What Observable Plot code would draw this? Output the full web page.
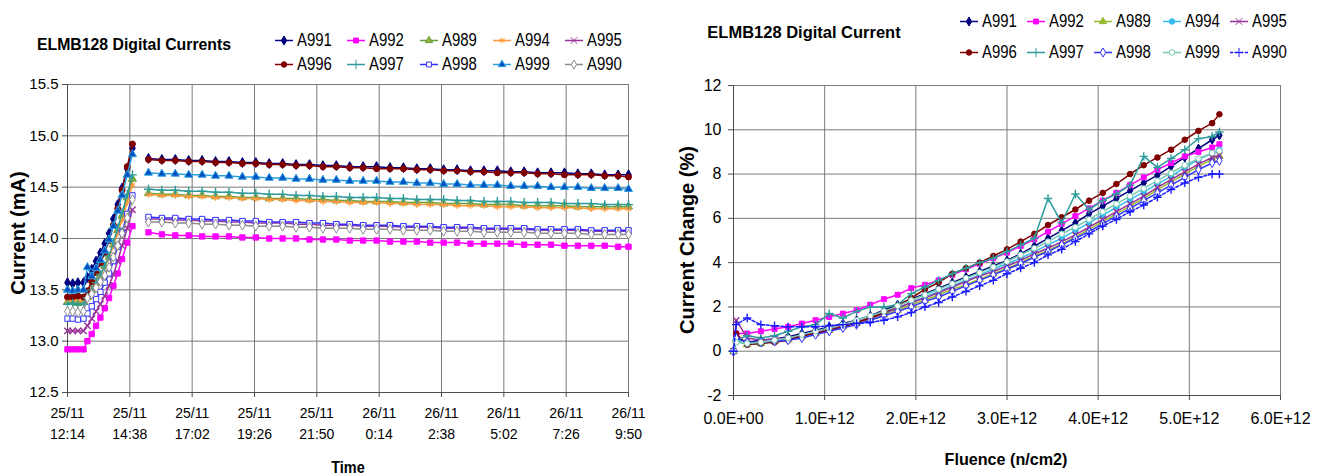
<!DOCTYPE html>
<html><head><meta charset="utf-8">
<script src="https://cdn.jsdelivr.net/npm/d3@7"></script>
<script src="https://cdn.jsdelivr.net/npm/@observablehq/plot@0.6"></script>
<style>
body{margin:0;background:#fff;width:1328px;height:476px;overflow:hidden;position:relative;font-family:"Liberation Sans",Arial,sans-serif;color:#000;}
.abs{position:absolute;white-space:nowrap;}
.ttl{font-weight:bold;font-size:17px;}
.axt{font-weight:bold;font-size:17px;}
.axv{font-weight:bold;font-size:20px;}
.leg{font-size:18px;display:flex;align-items:center;}
.leg svg{margin-right:4px;flex:none;}
.leg span{display:inline-block;transform:scaleX(0.83);transform-origin:left center;}
</style></head><body>
<div id="left" class="abs" style="left:0;top:0"></div>
<div id="right" class="abs" style="left:660px;top:0"></div>
<script>
// ---------- shared ----------
const seriesNames = ["A991","A992","A989","A994","A995","A996","A997","A998","A999","A990"];

// ---------- left chart data: current (mA) vs time (minutes after 25/11 12:14) ----------
const timeMin = [0,12,24,37, 46,56,66,76,86,96,106,116,126,138,150, 168,
  187,218,249,280,311,342,373,404,435,466,497,528,559,590,621,652,683,714,745,776,807,838,869,900,931,962,993,1024,1055,1086,1117,1148,1179,1210,1241,1272,1296];
const timeTicks = [0,144,288,432,576,720,864,1008,1152,1296];
const timeTickLabels = ["25/11\n12:14","25/11\n14:38","25/11\n17:02","25/11\n19:26","25/11\n21:50","26/11\n0:14","26/11\n2:38","26/11\n5:02","26/11\n7:26","26/11\n9:50"];
const currentTicks = [12.5,13.0,13.5,14.0,14.5,15.0,15.5];

const cur_A991 = [13.57,13.56,13.57,13.57, 13.62,13.70,13.78,13.86,13.95,14.05,14.19,14.33,14.49,14.68,14.88, null,
  14.78,14.77,14.77,14.76,14.76,14.75,14.75,14.74,14.74,14.73,
  14.73,14.72,14.72,14.71,14.71,14.70,14.70,14.70,14.69,14.69,
  14.68,14.68,14.67,14.67,14.66,14.66,14.66,14.65,14.65,14.64,
  14.64,14.64,14.63,14.63,14.62,14.62,14.62];
const cur_A992 = [12.92,12.92,12.92,12.92, 13.00,13.07,13.15,13.23,13.32,13.42,13.54,13.66,13.80,13.96,14.12, null,
  14.06,14.04,14.03,14.03,14.02,14.02,14.02,14.01,14.01,14.00,
  14.00,14.00,13.99,13.99,13.99,13.98,13.98,13.98,13.97,13.97,
  13.97,13.96,13.96,13.96,13.95,13.95,13.95,13.95,13.94,13.94,
  13.94,13.93,13.93,13.93,13.93,13.92,13.92];
const cur_A989 = [13.38,13.38,13.37,13.38, 13.43,13.50,13.57,13.64,13.73,13.82,13.94,14.08,14.22,14.40,14.58, null,
  14.44,14.43,14.43,14.42,14.42,14.41,14.41,14.40,14.40,14.39,
  14.39,14.39,14.38,14.38,14.37,14.37,14.36,14.36,14.36,14.35,
  14.35,14.35,14.34,14.34,14.34,14.33,14.33,14.33,14.32,14.32,
  14.32,14.32,14.31,14.31,14.31,14.31,14.31];
const cur_A994 = [13.40,13.41,13.40,13.40, 13.44,13.51,13.58,13.65,13.72,13.81,13.93,14.05,14.18,14.35,14.52, null,
  14.43,14.42,14.42,14.41,14.41,14.40,14.40,14.39,14.39,14.38,
  14.38,14.37,14.37,14.36,14.36,14.35,14.35,14.35,14.34,14.34,
  14.33,14.33,14.33,14.32,14.32,14.32,14.31,14.31,14.31,14.30,
  14.30,14.30,14.30,14.29,14.29,14.29,14.29];
const cur_A995 = [13.10,13.10,13.10,13.10, 13.15,13.22,13.29,13.36,13.44,13.54,13.65,13.78,13.93,14.10,14.28, null,
  14.19,14.19,14.18,14.18,14.17,14.17,14.16,14.16,14.15,14.15,
  14.15,14.14,14.14,14.13,14.13,14.13,14.12,14.12,14.12,14.11,
  14.11,14.11,14.10,14.10,14.10,14.09,14.09,14.09,14.09,14.08,
  14.08,14.08,14.08,14.07,14.07,14.07,14.07];
const cur_A996 = [13.43,13.43,13.44,13.43, 13.49,13.58,13.67,13.76,13.86,13.98,14.13,14.29,14.47,14.70,14.92, null,
  14.77,14.76,14.76,14.75,14.75,14.74,14.74,14.73,14.73,14.72,
  14.72,14.71,14.71,14.70,14.70,14.69,14.69,14.68,14.68,14.68,
  14.67,14.67,14.66,14.66,14.65,14.65,14.64,14.64,14.64,14.63,
  14.63,14.62,14.62,14.62,14.61,14.61,14.60];
const cur_A997 = [13.36,13.37,13.36,13.36, 13.42,13.50,13.57,13.65,13.73,13.83,13.96,14.10,14.25,14.43,14.62, null,
  14.48,14.47,14.47,14.46,14.46,14.45,14.45,14.44,14.44,14.43,
  14.43,14.42,14.42,14.41,14.41,14.40,14.40,14.40,14.39,14.39,
  14.38,14.38,14.38,14.37,14.37,14.36,14.36,14.36,14.35,14.35,
  14.35,14.34,14.34,14.34,14.33,14.33,14.33];
const cur_A998 = [13.22,13.22,13.21,13.22, 13.27,13.34,13.41,13.48,13.57,13.66,13.78,13.92,14.06,14.24,14.42, null,
  14.21,14.20,14.20,14.19,14.19,14.18,14.18,14.17,14.17,14.16,
  14.16,14.16,14.15,14.15,14.14,14.14,14.13,14.13,14.13,14.12,
  14.12,14.12,14.11,14.11,14.11,14.10,14.10,14.10,14.10,14.09,
  14.09,14.09,14.09,14.08,14.08,14.08,14.08];
const cur_A999 = [13.50,13.49,13.50,13.50, 13.72,13.63,13.71,13.79,13.88,13.99,14.12,14.27,14.42,14.62,14.82, null,
  14.64,14.63,14.63,14.62,14.62,14.61,14.61,14.60,14.60,14.59,
  14.59,14.58,14.58,14.57,14.57,14.56,14.56,14.56,14.55,14.55,
  14.54,14.54,14.53,14.53,14.52,14.52,14.52,14.51,14.51,14.51,
  14.50,14.50,14.50,14.49,14.49,14.49,14.48];
const cur_A990 = [13.29,13.29,13.28,13.29, 13.42,13.46,13.52,13.58,13.64,13.72,13.82,13.93,14.05,14.20,14.38, null,
  14.16,14.16,14.15,14.15,14.14,14.14,14.13,14.13,14.12,14.12,
  14.12,14.11,14.11,14.10,14.10,14.10,14.09,14.09,14.09,14.08,
  14.08,14.08,14.07,14.07,14.07,14.06,14.06,14.06,14.06,14.05,
  14.05,14.05,14.05,14.04,14.04,14.04,14.04];

// ---------- right chart data: current change (%) vs fluence (n/cm2) ----------
const fluence = [0,0.03e12,0.15e12,0.30e12,0.45e12,0.60e12,0.75e12,0.90e12,1.05e12,1.20e12,1.35e12,1.50e12,1.65e12,1.80e12,1.95e12,
  2.10e12,2.25e12,2.40e12,2.55e12,2.70e12,2.85e12,3.00e12,3.15e12,3.30e12,3.45e12,3.60e12,3.75e12,3.90e12,
  4.05e12,4.20e12,4.35e12,4.50e12,4.65e12,4.80e12,4.95e12,5.10e12,5.25e12,5.33e12];
const fluenceTicks = [0,1e12,2e12,3e12,4e12,5e12,6e12];
const changeTicks = [-2,0,2,4,6,8,10,12];

const chg_A991 = [0,0.6,0.4,0.5,0.55,0.65,0.8,0.95,1.1,1.25,1.4,1.6,1.85,2.1,2.35,2.6,2.85,3.1,3.35,3.6,3.85,4.1,4.4,4.75,5.1,5.45,5.8,6.2,6.55,6.9,7.25,7.6,7.95,8.35,8.75,9.15,9.55,9.75];
const chg_A992 = [0,0.8,0.8,0.9,1.0,1.1,1.25,1.4,1.55,1.7,1.85,2.1,2.35,2.55,2.85,3.0,3.2,3.45,3.7,3.95,4.2,4.45,4.75,5.05,5.4,5.75,6.1,6.45,6.8,7.15,7.5,7.85,8.2,8.5,8.8,9.0,9.2,9.35];
const chg_A989 = [0,0.5,0.3,0.35,0.45,0.55,0.65,0.8,0.95,1.1,1.25,1.45,1.65,1.85,2.1,2.3,2.55,2.8,3.0,3.25,3.5,3.75,4.0,4.3,4.55,4.85,5.15,5.5,5.85,6.2,6.55,6.9,7.3,7.65,8.0,8.35,8.65,8.8];
const chg_A994 = [0,0.5,0.3,0.35,0.45,0.55,0.65,0.8,0.95,1.1,1.3,1.5,1.7,1.95,2.2,2.45,2.7,2.95,3.2,3.45,3.7,3.95,4.2,4.5,4.8,5.1,5.45,5.8,6.15,6.5,6.85,7.2,7.55,7.9,8.3,8.65,8.95,9.1];
const chg_A995 = [0,1.4,0.6,0.5,0.55,0.6,0.7,0.85,1.0,1.15,1.3,1.5,1.7,1.95,2.2,2.4,2.65,2.9,3.15,3.4,3.6,3.85,4.1,4.4,4.65,4.95,5.25,5.6,5.95,6.3,6.65,7.0,7.4,7.75,8.1,8.45,8.75,8.85];
const chg_A996 = [0,0.8,0.3,0.35,0.4,0.5,0.7,0.8,0.95,1.1,1.3,1.5,1.75,2.05,2.4,2.8,3.1,3.5,3.75,4.0,4.3,4.6,4.95,5.3,5.7,6.05,6.4,6.8,7.15,7.55,8.0,8.4,8.75,9.1,9.55,9.95,10.3,10.7];
const chg_A997 = [0,0.5,0.7,0.6,0.7,0.9,1.1,1.2,1.7,1.5,1.8,2.0,2.0,2.1,2.6,2.9,3.2,3.5,3.75,4.0,4.2,4.5,4.8,5.1,6.9,5.8,7.1,6.4,6.8,7.1,7.5,8.8,8.3,8.7,9.1,9.6,9.7,9.9];
const chg_A998 = [0,0.6,0.4,0.4,0.45,0.5,0.6,0.75,0.9,1.05,1.2,1.4,1.6,1.8,2.0,2.25,2.45,2.7,2.95,3.2,3.45,3.7,3.95,4.25,4.5,4.8,5.1,5.4,5.75,6.1,6.45,6.8,7.15,7.5,7.85,8.2,8.5,8.6];
const chg_A999 = [0,0.4,0.35,0.4,0.5,0.6,0.75,0.9,1.05,1.2,1.4,1.6,1.8,2.05,2.3,2.55,2.8,3.05,3.3,3.55,3.8,4.05,4.35,4.65,4.95,5.3,5.6,5.95,6.3,6.65,7.0,7.35,7.7,8.05,8.4,8.7,8.95,9.05];
const chg_A990 = [0,1.2,1.5,1.2,1.15,1.1,1.1,1.1,1.15,1.2,1.25,1.3,1.4,1.55,1.75,2.0,2.2,2.45,2.7,2.95,3.2,3.5,3.75,4.0,4.35,4.6,4.95,5.3,5.65,5.95,6.3,6.6,6.95,7.3,7.6,7.85,8.0,8.0];

// ---------- styles ----------
const leftColors  = ["#000080","#ff00ff","#66a03a","#ff9a3c","#993399","#800000","#2f9c9c","#3333ff","#2a9ee0","#8c8c8c"];
const leftMarkFill= ["#000080","#ff00ff","#8db33a","none","none","#800000","none","#ffffff","#0050c0","#ffffff"];
const leftSymbols = ["diamond","square","triangle","asterisk","times","circle","plus","square","triangle","diamond"];
const rightColors = ["#000080","#ff00ff","#99bb33","#33bbee","#993399","#800000","#2f9c9c","#3333ff","#77c9b0","#1a1aff"];
const rightMarkFill=["#000080","#ff00ff","#99bb33","#33bbee","none","#800000","none","#ffffff","#ffffff","none"];
const rightSymbols= ["diamond","square","triangle","circle","times","circle","plus","diamond","circle","plus"];
const rightDash   = [null,null,null,null,null,null,null,null,null,"3,2"];
const strokeOnly = new Set(["asterisk","times","plus"]);
const FONT = '"Liberation Sans", Arial, sans-serif';
const GRID = "#7a7a7a", AXIS = "#4d4d4d";

const leftValues = [cur_A991,cur_A992,cur_A989,cur_A994,cur_A995,cur_A996,cur_A997,cur_A998,cur_A999,cur_A990];
const rightValues = [chg_A991,chg_A992,chg_A989,chg_A994,chg_A995,chg_A996,chg_A997,chg_A998,chg_A999,chg_A990];

function seriesMarks(xs, valuesList, colors, fills, symbols, dashes, r) {
  const marks = [];
  valuesList.forEach((vals, i) => {
    const rows = xs.map((x, j) => ({x, y: vals[j]}));
    marks.push(Plot.line(rows, {x: "x", y: "y", stroke: colors[i], strokeWidth: 1.5,
      strokeDasharray: dashes ? dashes[i] : null}));
    const so = strokeOnly.has(symbols[i]);
    marks.push(Plot.dot(rows.filter(d => d.y != null), {x: "x", y: "y", symbol: symbols[i], r,
      fill: so ? "none" : fills[i], stroke: colors[i], strokeWidth: so ? 1.4 : 1}));
  });
  return marks;
}

// ---------- left plot ----------
const leftPlot = Plot.plot({
  width: 660, height: 476,
  marginTop: 84, marginBottom: 84, marginLeft: 67, marginRight: 32,
  style: {fontFamily: FONT, fontSize: "14px", background: "transparent", color: "#000"},
  x: {domain: [0, 1296], axis: null},
  y: {domain: [12.5, 15.5], axis: null},
  marks: [
    Plot.gridX(timeTicks, {stroke: GRID, strokeOpacity: 1, strokeWidth: 1}),
    Plot.gridY(currentTicks, {stroke: GRID, strokeOpacity: 1, strokeWidth: 1}),
    Plot.axisX(timeTicks, {tickFormat: d => timeTickLabels[timeTicks.indexOf(d)], tickSize: 5, tickPadding: 6,
      lineHeight: 1.5, stroke: AXIS, fontSize: 14, label: null}),
    Plot.axisY(currentTicks, {tickFormat: d => d.toFixed(1), tickSize: 5, tickPadding: 4, stroke: AXIS, fontSize: 15, label: null}),
    Plot.ruleX([0], {stroke: AXIS}),
    Plot.ruleY([12.5], {stroke: AXIS}),
    ...seriesMarks(timeMin, leftValues, leftColors, leftMarkFill, leftSymbols, null, 3)
  ]
});
document.getElementById("left").append(leftPlot);

// ---------- right plot ----------
function sci(d) {
  if (d === 0) return "0.0E+00";
  const [m, e] = d.toExponential(1).split("e");
  const sign = e[0] === "-" ? "-" : "+";
  const digits = e.replace(/^[+-]/, "").padStart(2, "0");
  return m + "E" + sign + digits;
}
const rightPlot = Plot.plot({
  width: 668, height: 476,
  marginTop: 85, marginBottom: 81, marginLeft: 73, marginRight: 48,
  style: {fontFamily: FONT, fontSize: "14px", background: "transparent", color: "#000"},
  x: {domain: [0, 6e12], axis: null},
  y: {domain: [-2, 12], axis: null},
  marks: [
    Plot.gridX(fluenceTicks, {stroke: GRID, strokeOpacity: 1}),
    Plot.gridY(changeTicks, {stroke: GRID, strokeOpacity: 1}),
    Plot.axisX(fluenceTicks, {tickFormat: sci, tickSize: 5, tickPadding: 12, stroke: AXIS, fontSize: 16, label: null}),
    Plot.axisY(changeTicks, {tickFormat: d => String(d), tickSize: 5, tickPadding: 7, stroke: AXIS, fontSize: 16, label: null}),
    Plot.ruleX([0], {stroke: AXIS}),
    Plot.ruleY([-2], {stroke: AXIS}),
    ...seriesMarks(fluence, rightValues, rightColors, rightMarkFill, rightSymbols, rightDash, 2.8)
  ]
});
document.getElementById("right").append(rightPlot);

// ---------- titles, axis labels ----------
function place(text, cx, cy, cls, rot, sx) {
  const d = document.createElement("div");
  d.className = "abs " + cls;
  d.textContent = text;
  d.style.left = cx + "px"; d.style.top = cy + "px";
  d.style.transform = "translate(-50%,-50%)" + (rot ? " rotate(-90deg)" : "") + (sx ? ` scaleX(${sx})` : "");
  document.body.append(d);
}
place("ELMB128 Digital Currents", 134, 45, "ttl", false, 0.93);
place("ELMB128 Digital Current", 804, 33, "ttl", false, 0.97);
place("Current (mA)", 18, 233, "axv", true);
place("Time", 348, 468, "axt", false, 0.85);
place("Current Change (%)", 687, 240, "axv", true);
place("Fluence (n/cm2)", 1006, 460, "axt", false, 0.95);

// ---------- legends ----------
const symMap = {diamond: d3.symbolDiamond, square: d3.symbolSquare, triangle: d3.symbolTriangle, asterisk: d3.symbolAsterisk,
  times: d3.symbolTimes, circle: d3.symbolCircle, plus: d3.symbolPlus};
function legend(colXs, rowYs, colors, fills, symbols, dashes) {
  seriesNames.forEach((name, i) => {
    const col = i % 5, row = Math.floor(i / 5);
    const item = document.createElement("div");
    item.className = "abs leg";
    item.style.left = colXs[col] + "px"; item.style.top = rowYs[row] + "px";
    item.style.transform = "translateY(-50%)";
    const so = strokeOnly.has(symbols[i]);
    const path = d3.symbol(symMap[symbols[i]], so ? 30 : 24)();
    item.innerHTML = `<svg width="18" height="12"><line x1="0" x2="18" y1="6" y2="6" stroke="${colors[i]}" stroke-width="1.3" ${dashes && dashes[i] ? `stroke-dasharray="${dashes[i]}"` : ""}/>` +
      `<path transform="translate(9,6)" d="${path}" fill="${so ? "none" : fills[i]}" stroke="${colors[i]}" stroke-width="1"/></svg><span>${name}</span>`;
    document.body.append(item);
  });
}
legend([275, 347, 420, 493, 565], [40, 64], leftColors, leftMarkFill, leftSymbols, null);
legend([960, 1027, 1094, 1163, 1230], [21, 52], rightColors, rightMarkFill, rightSymbols, rightDash);
</script>
</body></html>
